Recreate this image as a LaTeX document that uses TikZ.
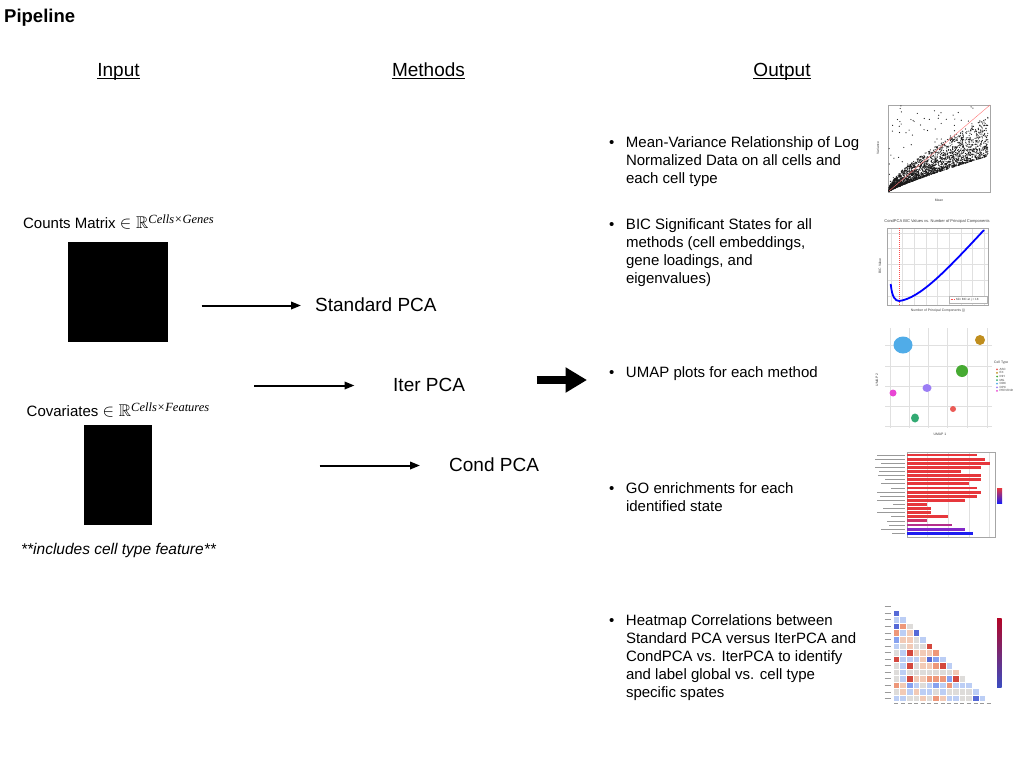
\documentclass[tikz,border=0pt]{standalone}
\usepackage{amssymb}
\usepackage{fontspec}
\setmainfont{Liberation Sans}
\newfontfamily\serifit{Liberation Serif}
\usetikzlibrary{arrows.meta}
\definecolor{hma}{RGB}{85,105,215}
\definecolor{hmb}{RGB}{135,162,240}
\definecolor{hmc}{RGB}{188,206,245}
\definecolor{hmd}{RGB}{222,220,218}
\definecolor{hme}{RGB}{242,202,182}
\definecolor{hmf}{RGB}{238,152,122}
\definecolor{hmg}{RGB}{212,72,62}
\definecolor{hmtop}{RGB}{180,4,38}
\definecolor{hmbot}{RGB}{59,76,192}
\definecolor{gored}{RGB}{230,55,60}
\definecolor{gomaga}{RGB}{205,50,105}
\definecolor{gomagb}{RGB}{180,45,140}
\definecolor{gopur}{RGB}{130,40,200}
\definecolor{goblu}{RGB}{30,30,240}
\definecolor{umASC}{RGB}{235,90,85}
\definecolor{umEX}{RGB}{192,142,30}
\definecolor{umINH}{RGB}{70,170,50}
\definecolor{umMG}{RGB}{50,170,115}
\definecolor{umODC}{RGB}{80,172,232}
\definecolor{umOPC}{RGB}{155,125,245}
\definecolor{umPER}{RGB}{232,70,212}
\newcommand{\elR}{{\fontsize{17}{18}\selectfont$\in\mathbb{R}$}}
\begin{document}
\begin{tikzpicture}[x=1pt,y=-1pt,
  lbl/.style={inner sep=0pt, font=\fontsize{15}{18}\selectfont},
  hdr/.style={inner sep=0pt, font=\fontsize{19}{22}\selectfont},
  conn/.style={line width=2pt, -{Triangle[length=10pt,width=7.5pt]}},
  tiny/.style={inner sep=0pt, font=\fontsize{3.4}{4}\selectfont, text=black!75},
  grid/.style={black!12, line width=0.3pt},
  frame/.style={black!35, line width=0.3pt},
  lblmark/.style={black!40, line width=0.7pt}]
\fill[white] (0,0) rectangle (1024,768);
\useasboundingbox (0,0) rectangle (1024,768);

% title and headers
\node[inner sep=0pt, anchor=base west, font=\fontsize{18.5}{22}\selectfont\bfseries] (title) at (4,22.5) {Pipeline};
\node[hdr, anchor=base] (hin) at (118.5,76.5) {Input};
\node[hdr, anchor=base] (hme) at (428.5,76.5) {Methods};
\node[hdr, anchor=base] (hout) at (782,76.5) {Output};
\draw[line width=1pt] ([yshift=-1.6pt]hin.base west) -- ([yshift=-1.6pt]hin.base east);
\draw[line width=1pt] ([yshift=-1.6pt]hme.base west) -- ([yshift=-1.6pt]hme.base east);
\draw[line width=1pt] ([yshift=-1.6pt]hout.base west) -- ([yshift=-1.6pt]hout.base east);

% inputs
\node[lbl, anchor=base] (cmat) at (118.5,228) {Counts Matrix \elR\raisebox{4.2pt}{\fontsize{12.5}{13}\selectfont\serifit\itshape Cells×Genes}};
\fill[black] (68,242) rectangle (168,342);
\node[lbl, anchor=base] (cov) at (118,416) {Covariates \elR\raisebox{4.2pt}{\fontsize{12.5}{13}\selectfont\serifit\itshape Cells×Features}};
\fill[black] (84.3,425) rectangle (152.3,525);
\node[lbl, anchor=base, font=\fontsize{15.5}{18}\selectfont\itshape] (incl) at (118.5,554.5) {**includes cell type feature**};

% methods
\node[hdr, anchor=base west] (std) at (315,311.7) {Standard PCA};
\node[hdr, anchor=base west] (iter) at (393,391.7) {Iter PCA};
\node[hdr, anchor=base west] (cond) at (449,471.5) {Cond PCA};
\coordinate (a1s) at (201.5,305.5);
\coordinate (a2s) at (254,385.5);
\coordinate (a3s) at (319.5,465.5);
\draw[conn, shorten >=14pt] (a1s) -- (std.west |- a1s);
\draw[conn, shorten >=38.5pt] (a2s) -- (iter.west |- a2s);
\draw[conn, shorten >=29pt] (a3s) -- (cond.west |- a3s);
\coordinate (ts) at (536.5,380);
\coordinate (te) at (587,380);
\draw[line width=7.5pt, -{Triangle[length=21.5pt,width=24pt]}] (ts) -- (te);

% output bullets
\node[lbl, anchor=base west] (o1) at (609,147.5) {\begin{tabular}[t]{@{}p{16.8pt}@{}l@{}}•&Mean-Variance Relationship of Log\\&Normalized Data on all cells and\\&each cell type\end{tabular}};
\node[lbl, anchor=base west] (o2) at (609,229) {\begin{tabular}[t]{@{}p{16.8pt}@{}l@{}}•&BIC Significant States for all\\&methods (cell embeddings,\\&gene loadings, and\\&eigenvalues)\end{tabular}};
\node[lbl, anchor=base west] (o3) at (609,377) {\begin{tabular}[t]{@{}p{16.8pt}@{}l@{}}•&UMAP plots for each method\end{tabular}};
\node[lbl, anchor=base west] (o4) at (609,493) {\begin{tabular}[t]{@{}p{16.8pt}@{}l@{}}•&GO enrichments for each\\&identified state\end{tabular}};
\node[lbl, anchor=base west] (o5) at (609,625) {\begin{tabular}[t]{@{}p{16.8pt}@{}l@{}}•&Heatmap Correlations between\\&Standard PCA versus IterPCA and\\&CondPCA vs. IterPCA to identify\\&and label global vs. cell type\\&specific spates\end{tabular}};

% ---- plot 1: mean-variance scatter
\draw[frame] (888,105) rectangle (990,192);
\pgfmathsetseed{11}
\foreach \i in {1,...,2400}{
  \pgfmathsetmacro\fx{0.01+0.97*pow(rnd,1.35)}
  \pgfmathsetmacro\bs{0.42*pow(\fx,0.85)}
  \pgfmathsetmacro\fy{min(0.99,\bs+ifthenelse(rnd<0.035,rnd*(1-\bs),0.45*pow(\fx,0.5)*pow(rnd,1.8)))}
  \fill[black!90] ({888+102*\fx},{192-87*\fy}) circle (0.6);
}
\draw[red!55, line width=0.4pt] (889,191) -- (990,105);
\node[tiny] (mvx) at (939,200) {Mean};
\node[tiny, rotate=90] (mvy) at (878,148) {Variance};

% ---- plot 2: BIC curve
\node[tiny, font=\fontsize{4}{5}\selectfont] (bict) at (937,221) {CondPCA BIC Values vs. Number of Principal Components};
\foreach \k in {0,...,8}{\draw[grid] ({890.7+11.67*\k},228) -- ({890.7+11.67*\k},305);}
\foreach \yy in {232.7,248.3,264.3,280,296}{\draw[grid] (887,\yy) -- (988,\yy);}
\draw[frame] (887,228) rectangle (988,305);
\draw[red!70, dash pattern=on 1pt off 1pt, line width=0.5pt] (899.3,228) -- (899.3,305);
\draw[blue, line width=1.8pt] (890.7,284) .. controls (892,297) and (895,301) .. (899.3,301) .. controls (920,298) and (945,272) .. (984,230);
\draw[black!30, line width=0.2pt, fill=white] (949,296.5) rectangle (987,303);
\draw[red!70, dash pattern=on 1pt off 0.7pt, line width=0.5pt] (950.5,299.7) -- (955,299.7);
\node[tiny, anchor=west, font=\fontsize{3}{3.5}\selectfont] (bicl) at (956,299.7) {Min BIC at j = 18};
\node[tiny] (bicx) at (938,311) {Number of Principal Components (j)};
\node[tiny, rotate=90] (bicy) at (880,266) {BIC Value};

% ---- plot 3: UMAP
\foreach \xx in {890,909.3,928.3,947.3,966.7,986.7}{\draw[grid] (\xx,328) -- (\xx,428);}
\foreach \yy in {345,365.7,385.7,405.7,426}{\draw[grid] (885,\yy) -- (992,\yy);}
\fill[umODC] (903,345) ellipse (9.5 and 8.5);
\fill[umEX] (980,340) ellipse (5 and 5);
\fill[umINH] (962,371) ellipse (6 and 6);
\fill[umOPC] (927,388) ellipse (4.5 and 4);
\fill[umPER] (893,393) ellipse (3.5 and 3.5);
\fill[umASC] (953,409) ellipse (3 and 3);
\fill[umMG] (915,418) ellipse (4 and 4.5);
\node[tiny] (umx) at (940,434) {UMAP 1};
\node[tiny, rotate=90] (umy) at (877,380) {UMAP 2};
\node[tiny, anchor=west] (umct) at (994,363) {Cell Type};
\foreach \nm/\cl [count=\k from 0] in {ASC/umASC,EX/umEX,INH/umINH,MG/umMG,ODC/umODC,OPC/umOPC,PER.END/umPER}{
  \fill[\cl] (997,{369.3+3.6*\k}) circle (1);
  \node[tiny, anchor=west, font=\fontsize{3}{3.5}\selectfont] (umleg\k) at (999.5,{369.3+3.6*\k}) {\nm};
}

% ---- plot 4: GO enrichment bars
\foreach \xx in {906.7,927.3,948,968.7,989.3}{\draw[grid] (\xx,452) -- (\xx,537);}
\draw[frame] (907,452) rectangle (995,537);
\foreach \v/\cl/\ln [count=\k from 0] in {352/gored/28,376/gored/30,390/gored/24,364/gored/30,302/gored/26,364/gored/27,364/gored/20,326/gored/24,352/gored/14,364/gored/28,352/gored/25,314/gored/28,202/gored/12,214/gored/22,214/gored/28,264/gored/14,202/gomaga/18,276/gomagb/16,314/gopur/24,340/goblu/13}{
  \fill[\cl] (907,{455+4.12*\k-1.45}) rectangle ({860+\v/3},{455+4.12*\k+1.45});
  \draw[lblmark] ({905-\ln},{455+4.12*\k}) -- (904.5,{455+4.12*\k});
}
\shade[top color=gored, bottom color=goblu] (997,488) rectangle (1002,503);

% ---- plot 5: correlation heatmap
\foreach \r/\vals in {1/{a},2/{c,c},3/{a,f,d},4/{f,c,e,a},5/{b,e,e,d,c},6/{c,d,e,d,d,g},7/{d,c,g,e,e,e,f},8/{g,c,c,c,e,a,b,c},9/{d,c,g,d,e,e,f,g,c},10/{d,c,d,d,d,d,d,d,d,e},11/{d,c,g,e,e,f,f,f,b,g,d},12/{f,e,b,c,d,c,b,c,f,c,c,c},13/{d,e,c,e,c,c,d,c,d,d,d,d,c},14/{c,c,d,d,e,d,f,e,c,c,d,d,a,c}}{
  \foreach \v [count=\c from 0] in \vals{
    \fill[fill=hm\v, draw=white, line width=0.4pt] ({893+6.6*\c},{603.4+6.55*\r}) rectangle ({899.6+6.6*\c},{609.95+6.55*\r});
  }
}
\foreach \r in {0,...,14}{\draw[lblmark] (884.5,{606.7+6.55*\r}) -- (890.5,{606.7+6.55*\r});}
\foreach \c in {0,...,14}{\draw[lblmark] ({894.3+6.6*\c},703) -- ({898.3+6.6*\c},703);}
\shade[top color=hmtop, middle color=hmd, bottom color=hmbot] (997,618) rectangle (1001.5,687);
\end{tikzpicture}
\end{document}
